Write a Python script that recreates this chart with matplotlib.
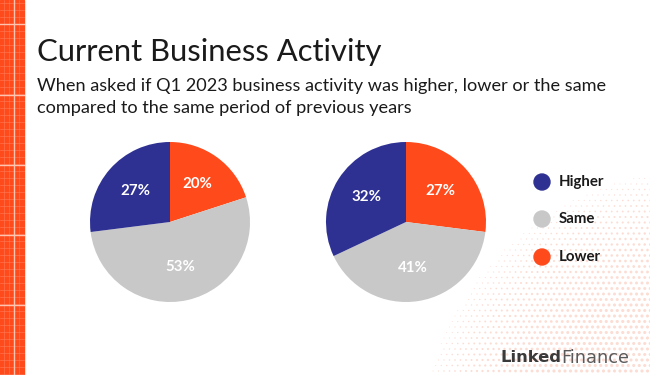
import numpy as np
import matplotlib
matplotlib.use("Agg")
import matplotlib.pyplot as plt
from matplotlib.patches import Rectangle, Circle

categories = ["Higher", "Same", "Lower"]
pie1_values = [27, 53, 20]
pie2_values = [32, 41, 27]
colors = {"Higher": "#2E3192", "Same": "#C8C8C8", "Lower": "#FF4A1C"}

title = "Current Business Activity"
subtitle = ("When asked if Q1 2023 business activity was higher, lower or the same\n"
            "compared to the same period of previous years")

W, H = 650, 375
fig = plt.figure(figsize=(W / 100, H / 100), dpi=100)
fig.patch.set_facecolor("white")
bg = fig.add_axes([0, 0, 1, 1])
bg.set_xlim(0, W)
bg.set_ylim(H, 0)
bg.axis("off")

FONT = "Lato"

# halftone decoration bottom-right
xs = np.arange(400, W + 6, 5.5)
ys = np.arange(140, H + 6, 5.5)
gx, gy = np.meshgrid(xs, ys)
gx[1::2] += 2.75
d = np.hypot(gx - 700, gy - 450)
t = np.clip((285 - d) / 120, 0, 1)
s = t ** 0.8 * 5.0
mask = s > 0.4
bg.scatter(gx[mask], gy[mask], s=s[mask], color="#FCDDD4", linewidths=0, zorder=0)

# left orange strip
bg.add_patch(Rectangle((0, 0), 24, H, color="#FF4A1C", zorder=1))
for y in np.arange(3, H, 7):
    bg.plot([0, 24], [y, y], color="#FF7B58", lw=0.4, zorder=2)
for x in [4, 9, 19]:
    bg.plot([x, x], [0, H], color="#FF7B58", lw=0.4, zorder=2)
bg.plot([14, 14], [0, H], color="#FFC4B0", lw=1.0, zorder=3)
for y in [24, 95, 165, 235, 305]:
    bg.plot([0, 24], [y, y], color="#FFC4B0", lw=1.0, zorder=3)

# titles
bg.text(37, 52, title, fontsize=22.3, family=FONT, color="#1A1A1A", va="center", ha="left")
bg.text(37, 97, subtitle, fontsize=13.1, family=FONT, color="#1A1A1A", va="center", ha="left",
        linespacing=1.4)

def draw_pie(cx, cy, r, values):
    ax = fig.add_axes([(cx - r) / W, (H - cy - r) / H, 2 * r / W, 2 * r / H])
    order = ["Lower", "Same", "Higher"]
    vals = [values[categories.index(c)] for c in order]
    ax.pie(vals, colors=[colors[c] for c in order], startangle=90, counterclock=False,
           autopct=lambda p: f"{p:.0f}%", pctdistance=0.58, radius=1,
           textprops=dict(color="white", fontsize=10.8, fontweight="bold", family=FONT))
    ax.set_xlim(-1, 1)
    ax.set_ylim(-1, 1)
    ax.set_aspect("equal")
    ax.axis("off")

draw_pie(170, 222, 80, pie1_values)
draw_pie(406, 222, 80, pie2_values)

# legend
for c, y in zip(categories, [182, 219, 257]):
    bg.add_patch(Circle((542, y), 8, color=colors[c], zorder=4))
    bg.text(559, y, c, fontsize=10.8, fontweight="bold", family=FONT, color="#1A1A1A",
            va="center", ha="left", zorder=5)

# logo
bg.text(500, 358, "Linked", fontsize=11.8, fontweight="bold", family="DejaVu Sans",
        color="#3A3A3A", va="center", ha="left", zorder=5)
bg.text(561, 358, "Finance", fontsize=12.8, fontweight="normal", family="DejaVu Sans",
        color="#5A5A5A", va="center", ha="left", zorder=5)

fig.savefig("out.png", dpi=100)
